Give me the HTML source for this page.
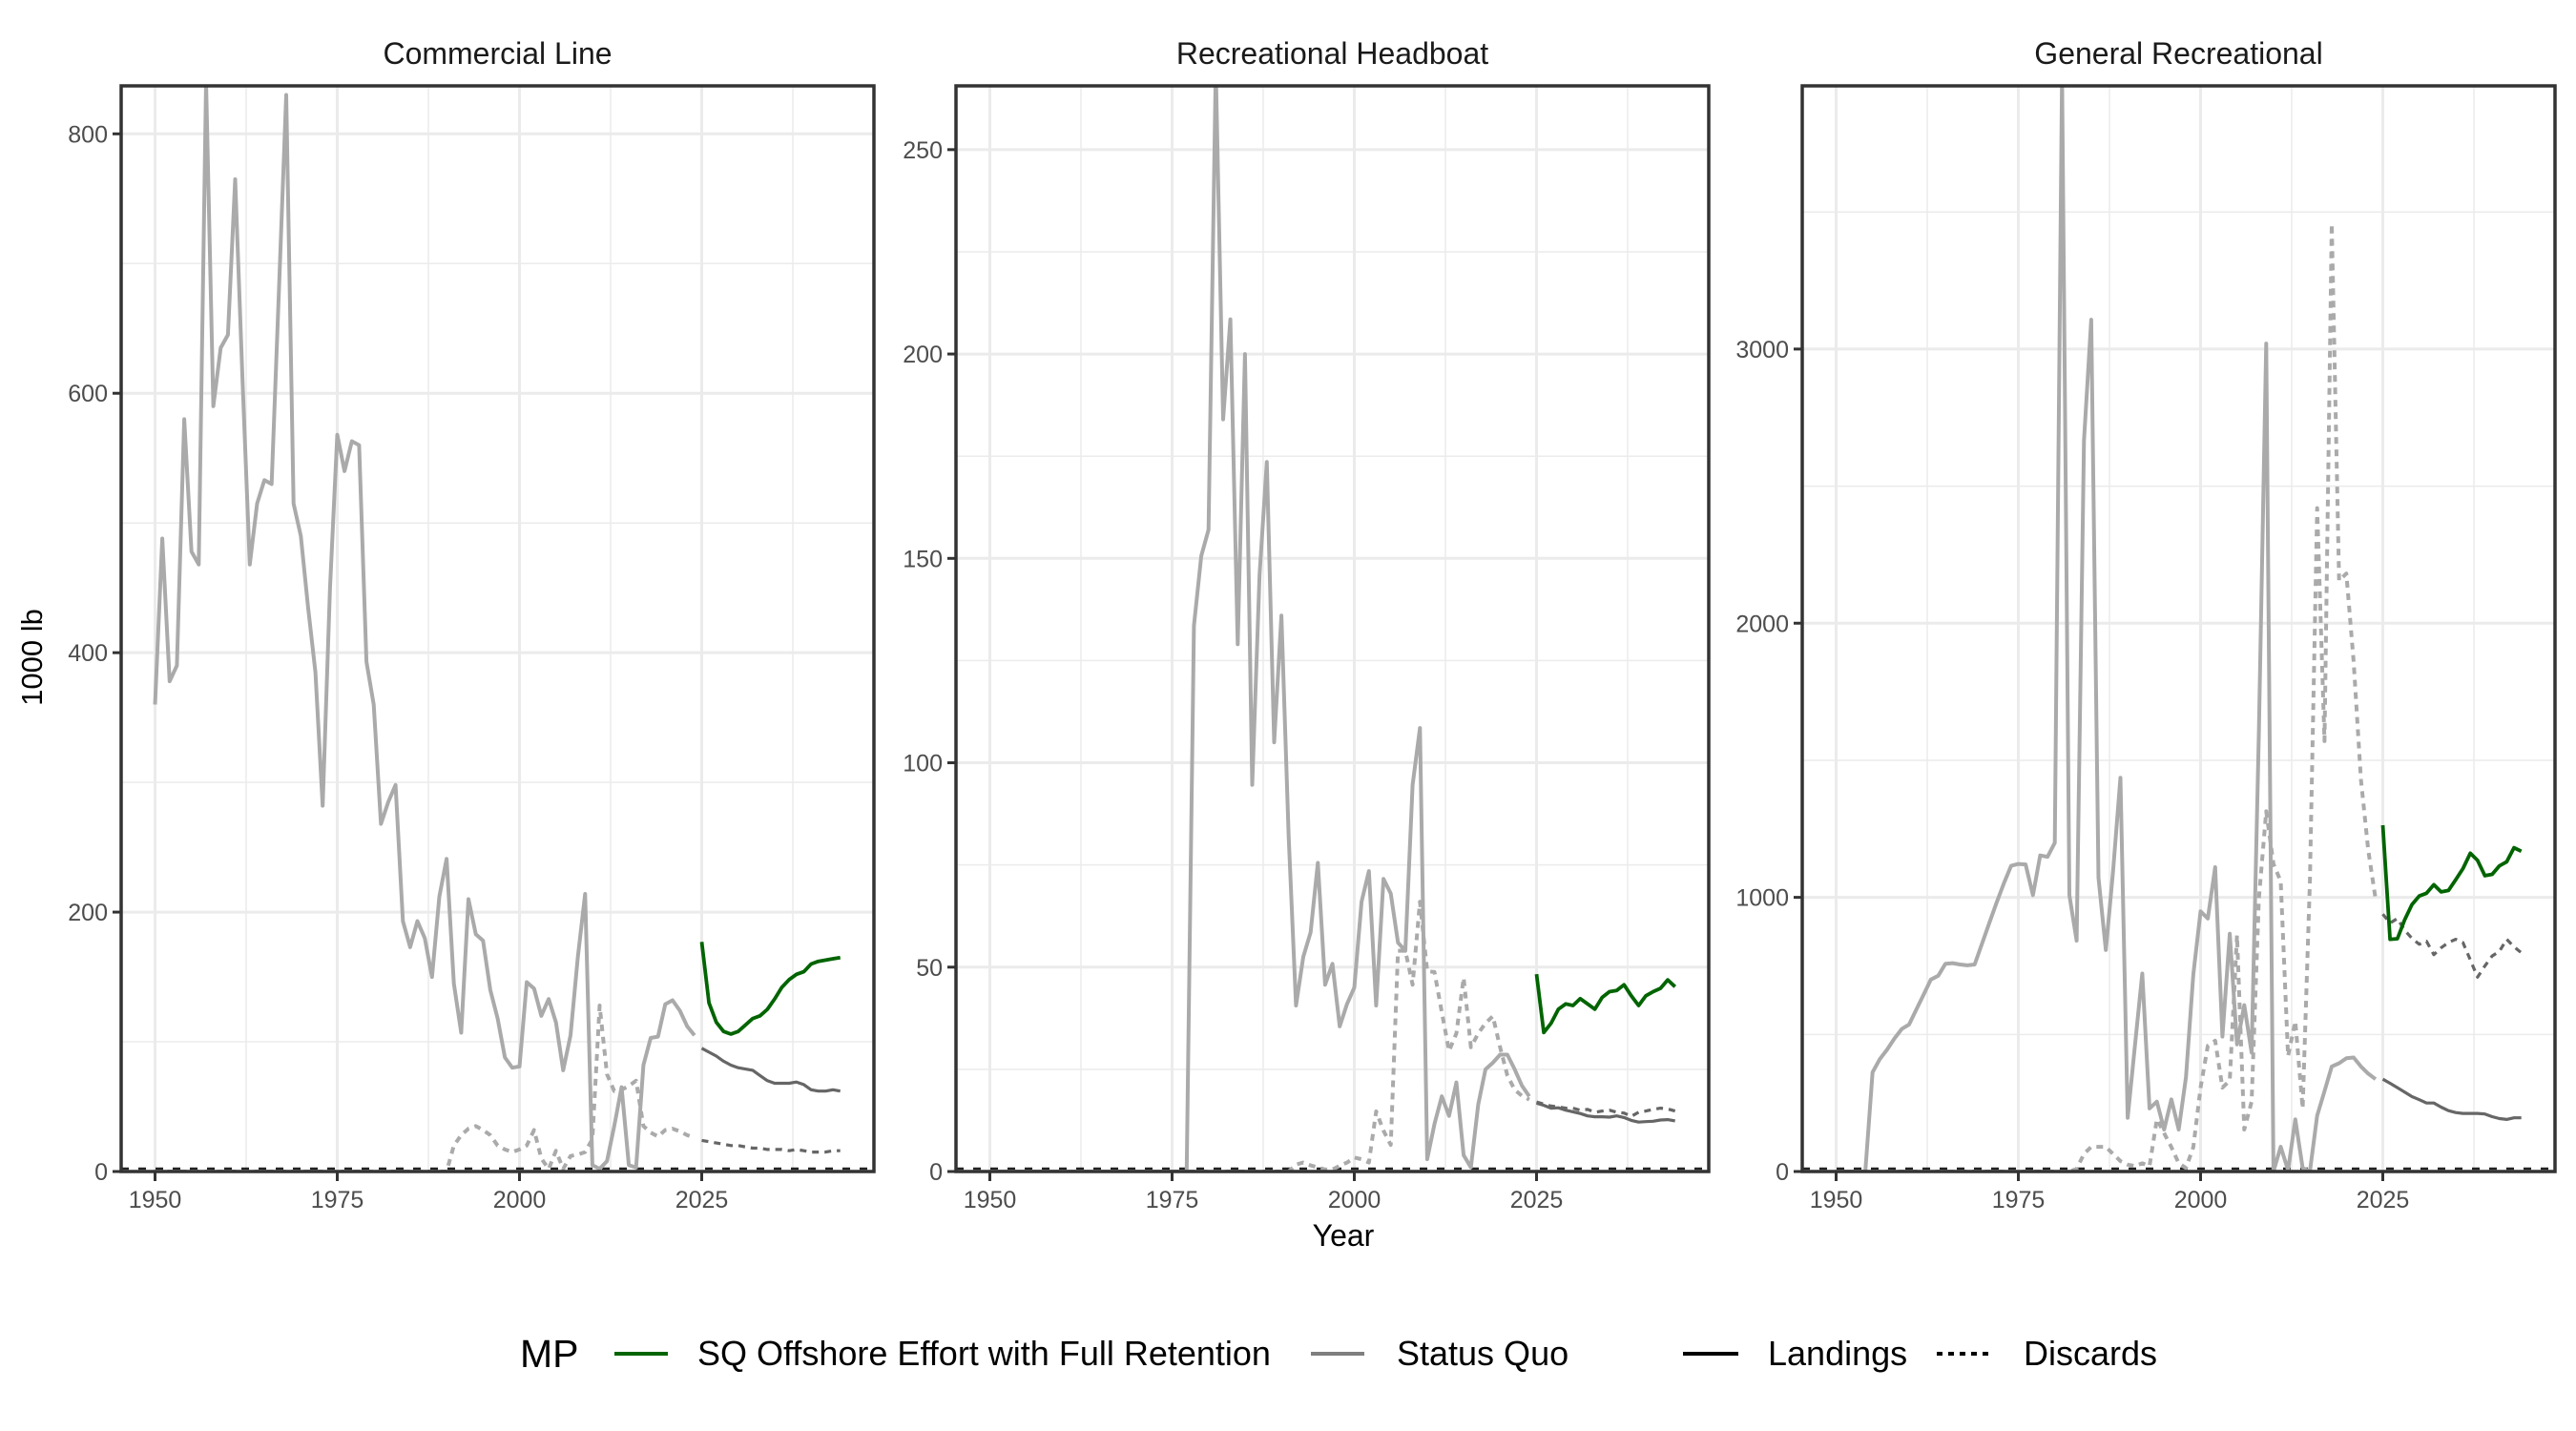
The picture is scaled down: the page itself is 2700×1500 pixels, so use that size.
<!DOCTYPE html>
<html><head><meta charset="utf-8"><style>
html,body{margin:0;padding:0;background:#fff;}
svg{display:block;font-family:"Liberation Sans",Arial,sans-serif;}
</style></head><body>
<svg id="chart" width="2700" height="1500" viewBox="0 0 2700 1500" xmlns="http://www.w3.org/2000/svg">
<rect width="2700" height="1500" fill="#fff"/>
<g id="panels"></g>
<text x="44" y="689" font-size="31" text-anchor="middle" transform="rotate(-90 44 689)" fill="#000">1000 lb</text>
<text x="1408" y="1306" font-size="32" text-anchor="middle" fill="#000">Year</text>
<g>
<text x="545" y="1433" font-size="41" fill="#000">MP</text>
<line x1="644" y1="1419" x2="700" y2="1419" stroke="#006400" stroke-width="4"/>
<text x="731" y="1431" font-size="36" fill="#000">SQ Offshore Effort with Full Retention</text>
<line x1="1374" y1="1419" x2="1430" y2="1419" stroke="#7f7f7f" stroke-width="4"/>
<text x="1464" y="1431" font-size="36" fill="#000">Status Quo</text>
<line x1="1764" y1="1419" x2="1822" y2="1419" stroke="#000" stroke-width="4"/>
<text x="1853" y="1431" font-size="36" fill="#000">Landings</text>
<line x1="2030" y1="1419" x2="2088" y2="1419" stroke="#000" stroke-width="4" stroke-dasharray="6 6"/>
<text x="2121" y="1431" font-size="36" fill="#000">Discards</text>
</g>
</svg>
<script>
const panelTitles = ["Commercial Line","Recreational Headboat","General Recreational"];
const histStart = 1950;
const projStart = 2025;
const yMax = [837, 265.6, 3960];
const yTicks = [[0,200,400,600,800],[0,50,100,150,200,250],[0,1000,2000,3000]];
const yMinor = [[100,300,500,700],[25,75,125,175,225],[500,1500,2500,3500]];
const xTicks = [1950,1975,2000,2025];
const xMinor = [1962.5,1987.5,2012.5,2037.5];

const commLand = [360,488,378,390,580,478,468,840,590,635,645,765,610,468,515,533,530,680,830,515,490,435,385,282,450,568,540,563,560,393,360,268,285,298,193,173,193,180,150,212,241,145,107,210,183,178,140,118,88,80,81,146,141,120,133,115,78,105,165,214,5,2,8,35,65,5,3,82,103,104,129,132,124,112,105];
const commDisc = [0,0,0,0,0,0,0,0,0,0,0,0,0,0,0,0,0,0,0,0,0,0,0,0,0,0,0,0,0,0,0,0,0,0,0,0,0,0,0,0,0,20,28,33,35,32,28,20,17,15,17,20,32,10,2,16,2,12,13,15,25,128,75,62,63,66,70,35,30,27,32,33,31,28,26];
const commSQLand = [95,92,89,85,82,80,79,78,74,70,68,68,68,69,67,63,62,62,63,62];
const commSQDisc = [24,23,22,21,20,20,19,18,18,17,17,17,16,17,16,15,15,15,16,16];
const commGreenLand = [177,130,115,108,106,108,113,118,120,125,133,142,148,152,154,160,162,163,164,165];

const hbLand = [0,0,0,0,0,0,0,0,0,0,0,0,0,0,0,0,0,0,0,0,0,0,0,0,0,0,0,0,133.5,150.6,157,270,184,208.5,129,200,94.6,146,173.6,105,136,82,40.6,52.5,58.5,75.5,45.7,50.8,35.5,41,45,66,73.5,40.6,71.6,68,56,54,94.6,108.5,3,11.6,18.4,13.6,21.8,4,1,16.4,25,26.6,28.6,28.6,25,21,18.4];
const hbDisc = [0,0,0,0,0,0,0,0,0,0,0,0,0,0,0,0,0,0,0,0,0,0,0,0,0,0,0,0,0,0,0,0,0,0,0,0,0,0,0,0,0,0,1.7,2.2,1.5,1,0.5,0.5,1.4,2.2,3.4,3,2.2,14.7,10,6.5,54,54,45.7,66,49,48.8,39,29.5,33.8,47.4,30.4,33.8,36.3,38,30.4,23.5,20,18.5,17.6];
const hbSQLand = [16.7,16.2,15.5,15.6,15,14.6,14.2,13.6,13.4,13.4,13.3,13.6,13.2,12.5,12.1,12.2,12.3,12.6,12.7,12.4];
const hbSQDisc = [17,16.5,16,15.8,15.5,15.5,15,15.2,14.5,14.8,15,14.5,14.3,13.5,14.5,14.8,15.2,15.5,15.3,14.8];
const hbGreenLand = [48.3,34,36.3,39.7,41,40.6,42.3,41,39.7,42.6,44,44.3,45.7,43,40.6,43,44,44.8,46.9,45.2];

const grLand = [0,0,0,0,0,362,410,445,485,520,536,590,645,700,714,758,760,755,752,755,830,905,980,1050,1115,1122,1120,1008,1153,1148,1199,4000,1008,842,2666,3107,1071,808,1097,1436,196,459,722,230,255,153,263,153,344,719,949,923,1110,492,867,464,607,434,1600,3020,0,90,5,190,13,0,204,293,383,395,413,416,383,357,337];
const grDisc = [0,0,0,0,0,0,0,0,0,0,0,0,0,0,0,0,0,0,0,0,0,0,0,0,0,0,0,0,0,0,0,0,0,10,64,90,90,90,64,38,25,20,30,20,191,140,89,30,13,89,306,459,477,306,332,862,153,255,995,1314,1122,1059,421,548,230,1060,2420,1570,3457,2155,2181,1862,1429,1173,995];
const grSQLand = [337,322,306,290,273,262,250,250,235,222,215,212,212,212,210,200,193,190,196,196];
const grSQDisc = [939,906,923,880,850,829,840,791,816,835,847,835,772,709,750,786,803,847,820,798];
const grGreenLand = [1263,847,849,918,974,1005,1015,1046,1020,1025,1064,1105,1161,1135,1079,1084,1115,1130,1181,1168];

const histLand = [commLand, hbLand, grLand];
const histDisc = [commDisc, hbDisc, grDisc];
const sqLand = [commSQLand, hbSQLand, grSQLand];
const sqDisc = [commSQDisc, hbSQDisc, grSQDisc];
const greenLand = [commGreenLand, hbGreenLand, grGreenLand];

const NS = "http://www.w3.org/2000/svg";
const panelLeft = [127, 1002, 1889];
const PW = 789, PT = 90, PB = 1228;
const root = document.getElementById('panels');
function mk(tag, attrs, parent){ const e = document.createElementNS(NS, tag); for (const k in attrs) e.setAttribute(k, attrs[k]); parent.appendChild(e); return e; }

panelTitles.forEach((title, p) => {
  const L = panelLeft[p];
  const xs = yr => L + 35.5 + (yr - 1950) * 7.64;
  const ys = v => PB - v / yMax[p] * (PB - PT);
  const g = mk('g', {}, root);
  
  
  const cid = 'clip' + p;
  const cp = mk('clipPath', {id: cid}, g);
  mk('rect', {x: L, y: PT, width: PW, height: PB - PT}, cp);
  const t = mk('text', {x: L + PW/2, y: 67, 'font-size': 32, 'text-anchor': 'middle', fill: '#1a1a1a'}, g);
  t.textContent = title;
  
  
  yMinor[p].forEach(v => { const l = mk('line', {x1: L, x2: L+PW, y1: ys(v), y2: ys(v), stroke: '#EBEBEB', 'stroke-width': 1.5}, g);   });
  xMinor.forEach(v => { const l = mk('line', {x1: xs(v), x2: xs(v), y1: PT, y2: PB, stroke: '#EBEBEB', 'stroke-width': 1.5}, g);   });
  yTicks[p].forEach(v => {
    const l = mk('line', {x1: L, x2: L+PW, y1: ys(v), y2: ys(v), stroke: '#EBEBEB', 'stroke-width': 3}, g);
     
    const tk = mk('line', {x1: L-9, x2: L, y1: ys(v), y2: ys(v), stroke: '#333', 'stroke-width': 3}, g);
     
    const tl = mk('text', {x: L-14, y: ys(v)+9, 'font-size': 25, 'text-anchor': 'end', fill: '#4D4D4D'}, g);
    tl.textContent = v;
     
  });
  xTicks.forEach(v => {
    const l = mk('line', {x1: xs(v), x2: xs(v), y1: PT, y2: PB, stroke: '#EBEBEB', 'stroke-width': 3}, g);
     
    const tk = mk('line', {x1: xs(v), x2: xs(v), y1: PB, y2: PB+10, stroke: '#333', 'stroke-width': 3}, g);
     
    const tl = mk('text', {x: xs(v), y: PB+38, 'font-size': 25, 'text-anchor': 'middle', fill: '#4D4D4D'}, g);
    tl.textContent = v;
     
  });
  const data = mk('g', {'clip-path': 'url(#' + cid + ')'}, g);
  function line(arr, start, color, w, dash, name){
    const pts = arr.map((v,i) => xs(start+i).toFixed(1) + ',' + ys(v).toFixed(1)).join(' ');
    const pl = mk('polyline', {points: pts, fill: 'none', stroke: color, 'stroke-width': w, 'stroke-linejoin': 'round'}, data);
    if (dash) pl.setAttribute('stroke-dasharray', dash);
    
    
  }
  const zl = mk('line', {x1: L, x2: L+PW, y1: PB-3, y2: PB-3, stroke: '#222', 'stroke-width': 2.5, 'stroke-dasharray': '8 10'}, data);
   
  line(histDisc[p], histStart, '#AAAAAA', 4, '7 6', 'historical-discards-line');
  line(histLand[p], histStart, '#AAAAAA', 4, null, 'historical-landings-line');
  line(sqDisc[p], projStart, '#666666', 3.2, '7 6', 'status-quo-discards-line');
  line(sqLand[p], projStart, '#666666', 3.2, null, 'status-quo-landings-line');
  line(greenLand[p], projStart, '#006400', 3.8, null, 'sq-offshore-landings-line');
  const b = mk('rect', {x: L, y: PT, width: PW, height: PB-PT, fill: 'none', stroke: '#333', 'stroke-width': 3.5}, g);
   
});
</script>
</body></html>
